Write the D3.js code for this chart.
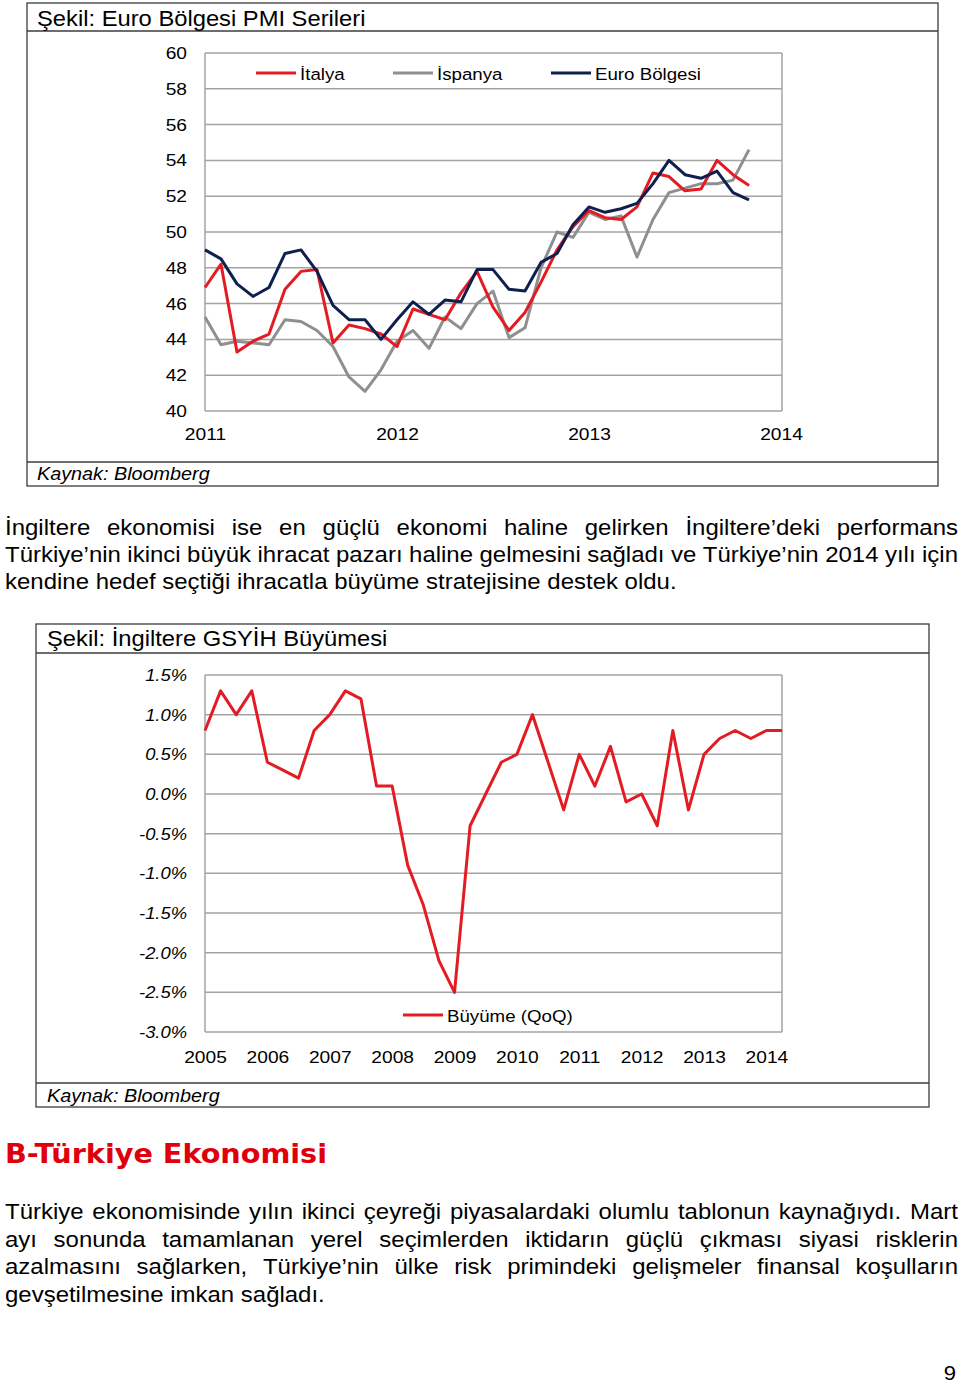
<!DOCTYPE html>
<html><head><meta charset="utf-8">
<script src="https://cdn.jsdelivr.net/npm/d3@7"></script>
<style>body{margin:0;background:#fff}svg{display:block}</style>
</head><body>
<script>
// ---------- DATA ----------
const pmiYears = ["2011", "2012", "2013", "2014"];
const pmiTicks = [40, 42, 44, 46, 48, 50, 52, 54, 56, 58, 60];
const italya  = [46.9,48.2,43.3,43.9,44.3,46.8,47.8,47.9,43.8,44.8,44.6,44.3,43.6,45.7,45.4,45.1,46.6,47.8,45.8,44.5,45.5,47.2,49.0,50.3,51.2,50.8,50.7,51.4,53.3,53.1,52.3,52.4,54.0,53.2,52.6];
const ispanya = [45.25,43.7,43.9,43.8,43.7,45.1,45.0,44.5,43.6,41.9,41.1,42.3,43.9,44.5,43.5,45.25,44.6,46.0,46.7,44.1,44.65,48.0,50.0,49.7,51.1,50.7,50.9,48.6,50.7,52.2,52.45,52.7,52.7,52.9,54.6];
const euro    = [49.0,48.5,47.1,46.4,46.9,48.8,49.0,47.8,45.9,45.1,45.1,44.0,45.1,46.1,45.4,46.2,46.1,47.9,47.9,46.8,46.7,48.3,48.8,50.4,51.4,51.1,51.3,51.6,52.7,54.0,53.2,53.0,53.4,52.2,51.8];
const pmiSeries = ["İtalya", "İspanya", "Euro Bölgesi"];

const gdpYears = ["2005","2006","2007","2008","2009","2010","2011","2012","2013","2014"];
const gdpTicks = [1.5, 1.0, 0.5, 0.0, -0.5, -1.0, -1.5, -2.0, -2.5, -3.0];
const gdpGrowth = [0.8,1.3,1.0,1.3,0.4,0.3,0.2,0.8,1.0,1.3,1.2,0.1,0.1,-0.9,-1.4,-2.1,-2.5,-0.4,0.0,0.4,0.5,1.0,0.4,-0.2,0.5,0.1,0.6,-0.1,0.0,-0.4,0.8,-0.2,0.5,0.7,0.8,0.7,0.8,0.8];
const gdpSeries = "Büyüme (QoQ)";

const para1 = [
  {t: "İngiltere ekonomisi ise en güçlü ekonomi haline gelirken İngiltere’deki performans", j: true},
  {t: "Türkiye’nin ikinci büyük ihracat pazarı haline gelmesini sağladı ve Türkiye’nin 2014 yılı için", j: true},
  {t: "kendine hedef seçtiği ihracatla büyüme stratejisine destek oldu.", j: false}
];
const para2 = [
  {t: "Türkiye ekonomisinde yılın ikinci çeyreği piyasalardaki olumlu tablonun kaynağıydı. Mart", j: true},
  {t: "ayı sonunda tamamlanan yerel seçimlerden iktidarın güçlü çıkması siyasi risklerin", j: true},
  {t: "azalmasını sağlarken, Türkiye’nin ülke risk primindeki gelişmeler finansal koşulların", j: true},
  {t: "gevşetilmesine imkan sağladı.", j: false}
];

// ---------- STYLE ----------
const FONT = "'Liberation Sans', Arial, Helvetica, sans-serif";
const RED = "#e31b23", GRAY = "#8f8f8f", NAVY = "#0f1f4e", GRID = "#a3a3a3", BOX = "#3c3c3c";

const svg = d3.select("body").append("svg").attr("width", 960).attr("height", 1384);

function stext(parent, str, x, y, o) {
  const sx = o.sx || 1.1;
  return parent.append("text")
    .attr("transform", `translate(${x},${y}) scale(${sx},1)`)
    .attr("font-family", o.family || FONT)
    .attr("font-size", o.size)
    .attr("font-style", o.italic ? "italic" : "normal")
    .attr("font-weight", o.weight || "normal")
    .attr("text-anchor", o.anchor || "start")
    .attr("fill", o.fill || "#000")
    .text(str);
}

function paragraph(lines, x0, x1, y0, lh, size, sx) {
  const g = svg.append("g");
  lines.forEach((ln, i) => {
    const y = y0 + i * lh;
    const words = ln.t.split(" ");
    const els = words.map(w => stext(g, w, 0, y, {size, sx}));
    const widths = els.map(e => e.node().getComputedTextLength() * sx);
    const total = d3.sum(widths);
    const gap = ln.j ? (x1 - x0 - total) / (words.length - 1) : size * 0.278 * sx;
    let x = x0;
    els.forEach((e, k) => {
      e.attr("transform", `translate(${x},${y}) scale(${sx},1)`);
      x += widths[k] + gap;
    });
  });
}

function stretchAxisText(g, sx, size, italic) {
  g.selectAll(".tick text")
    .attr("font-family", FONT).attr("font-size", size)
    .attr("font-style", italic ? "italic" : "normal")
    .attr("fill", "#000")
    .each(function() {
      const t = d3.select(this);
      const x = +t.attr("x") || 0;
      t.attr("x", x / sx).attr("transform", `scale(${sx},1)`);
    });
  g.select(".domain").remove();
}

// ---------- CHART 1 : PMI ----------
{
  const box = {x: 27, y: 3, w: 911, h: 483};
  svg.append("rect").attr("x", box.x).attr("y", box.y).attr("width", box.w).attr("height", box.h)
    .attr("fill", "none").attr("stroke", BOX).attr("stroke-width", 1.3);
  svg.append("line").attr("x1", box.x).attr("x2", box.x + box.w).attr("y1", 31).attr("y2", 31)
    .attr("stroke", BOX).attr("stroke-width", 1.3);
  svg.append("line").attr("x1", box.x).attr("x2", box.x + box.w).attr("y1", 462).attr("y2", 462)
    .attr("stroke", BOX).attr("stroke-width", 1.3);
  stext(svg, "Şekil: Euro Bölgesi PMI Serileri", 37, 26, {size: 22, sx: 1.08});
  stext(svg, "Kaynak: Bloomberg", 37, 480, {size: 18, sx: 1.1, italic: true});

  const x = d3.scaleLinear().domain([0, 36]).range([205, 781]);
  const y = d3.scaleLinear().domain([40, 60]).range([411, 53]);

  const grid = svg.append("g");
  grid.selectAll("line").data(pmiTicks).join("line")
    .attr("x1", x(0)).attr("x2", 782).attr("y1", d => y(d)).attr("y2", d => y(d))
    .attr("stroke", GRID).attr("stroke-width", 1.5);
  grid.append("line").attr("x1", x(0)).attr("x2", x(0)).attr("y1", y(60)).attr("y2", y(40))
    .attr("stroke", GRID).attr("stroke-width", 1.5);
  grid.append("line").attr("x1", 782).attr("x2", 782).attr("y1", y(60)).attr("y2", y(40))
    .attr("stroke", GRID).attr("stroke-width", 1.5);

  const ya = svg.append("g").attr("transform", `translate(${x(0)},0)`)
    .call(d3.axisLeft(y).tickValues(pmiTicks).tickSize(0).tickPadding(18).tickFormat(d3.format("d")));
  stretchAxisText(ya, 1.13, 17, false);
  const xa = svg.append("g").attr("transform", `translate(0,${y(40)})`)
    .call(d3.axisBottom(x).tickValues([0, 12, 24, 36]).tickSize(0).tickPadding(17).tickFormat((d, i) => pmiYears[i]));
  stretchAxisText(xa, 1.13, 17, false);

  const line = d3.line().x((d, i) => x(i)).y(d => y(d));
  const series = [[ispanya, GRAY], [italya, RED], [euro, NAVY]];
  series.forEach(([data, col]) => {
    svg.append("path").datum(data).attr("d", line).attr("fill", "none")
      .attr("stroke", col).attr("stroke-width", 3).attr("stroke-linejoin", "round");
  });

  // legend
  const leg = [[pmiSeries[0], RED, 256], [pmiSeries[1], GRAY, 393], [pmiSeries[2], NAVY, 551]];
  leg.forEach(([name, col, lx]) => {
    svg.append("line").attr("x1", lx).attr("x2", lx + 40).attr("y1", 73).attr("y2", 73)
      .attr("stroke", col).attr("stroke-width", 3);
    stext(svg, name, lx + 44, 80, {size: 17, sx: 1.1});
  });
}

// ---------- PARAGRAPH 1 ----------
paragraph(para1, 5, 958, 535, 27, 22, 1.09);

// ---------- CHART 2 : UK GDP ----------
{
  const box = {x: 36, y: 624, w: 893, h: 483};
  svg.append("rect").attr("x", box.x).attr("y", box.y).attr("width", box.w).attr("height", box.h)
    .attr("fill", "none").attr("stroke", BOX).attr("stroke-width", 1.3);
  svg.append("line").attr("x1", box.x).attr("x2", box.x + box.w).attr("y1", 653).attr("y2", 653)
    .attr("stroke", BOX).attr("stroke-width", 1.3);
  svg.append("line").attr("x1", box.x).attr("x2", box.x + box.w).attr("y1", 1083).attr("y2", 1083)
    .attr("stroke", BOX).attr("stroke-width", 1.3);
  stext(svg, "Şekil: İngiltere GSYİH Büyümesi", 47, 646, {size: 22, sx: 1.08});
  stext(svg, "Kaynak: Bloomberg", 47, 1102, {size: 18, sx: 1.1, italic: true});

  const x = d3.scaleLinear().domain([0, 37]).range([205, 782]);
  const y = d3.scaleLinear().domain([-3, 1.5]).range([1032, 675]);

  const grid = svg.append("g");
  grid.selectAll("line").data(gdpTicks).join("line")
    .attr("x1", x(0)).attr("x2", x(37)).attr("y1", d => y(d)).attr("y2", d => y(d))
    .attr("stroke", GRID).attr("stroke-width", 1.5);
  grid.append("line").attr("x1", x(0)).attr("x2", x(0)).attr("y1", y(1.5)).attr("y2", y(-3))
    .attr("stroke", GRID).attr("stroke-width", 1.5);
  grid.append("line").attr("x1", x(37)).attr("x2", x(37)).attr("y1", y(1.5)).attr("y2", y(-3))
    .attr("stroke", GRID).attr("stroke-width", 1.5);

  const ya = svg.append("g").attr("transform", `translate(${x(0)},0)`)
    .call(d3.axisLeft(y).tickValues(gdpTicks).tickSize(0).tickPadding(18).tickFormat(d => d3.format(".1f")(d).replace("−", "-") + "%"));
  stretchAxisText(ya, 1.08, 17, true);
  const xa = svg.append("g").attr("transform", `translate(0,${y(-3)})`)
    .call(d3.axisBottom(x).tickValues(d3.range(0, 37, 4)).tickSize(0).tickPadding(19).tickFormat((d, i) => gdpYears[i]));
  stretchAxisText(xa, 1.13, 17, false);

  const line = d3.line().x((d, i) => x(i)).y(d => y(d));
  svg.append("path").datum(gdpGrowth).attr("d", line).attr("fill", "none")
    .attr("stroke", RED).attr("stroke-width", 3).attr("stroke-linejoin", "round");

  svg.append("line").attr("x1", 403).attr("x2", 443).attr("y1", 1015).attr("y2", 1015)
    .attr("stroke", RED).attr("stroke-width", 3);
  stext(svg, gdpSeries, 447, 1022, {size: 17, sx: 1.1});
}

// ---------- HEADING + PARAGRAPH 2 ----------
stext(svg, "B-Türkiye Ekonomisi", 5, 1163, {size: 27, sx: 1.0, weight: "bold", fill: "#e0000b",
  family: "'DejaVu Sans', Verdana, sans-serif"}).attr("textLength", 322).attr("lengthAdjust", "spacingAndGlyphs");
paragraph(para2, 5, 958, 1219, 27.5, 22, 1.09);

stext(svg, "9", 956, 1380, {size: 21, sx: 1.05, anchor: "end"});
</script>
</body></html>
